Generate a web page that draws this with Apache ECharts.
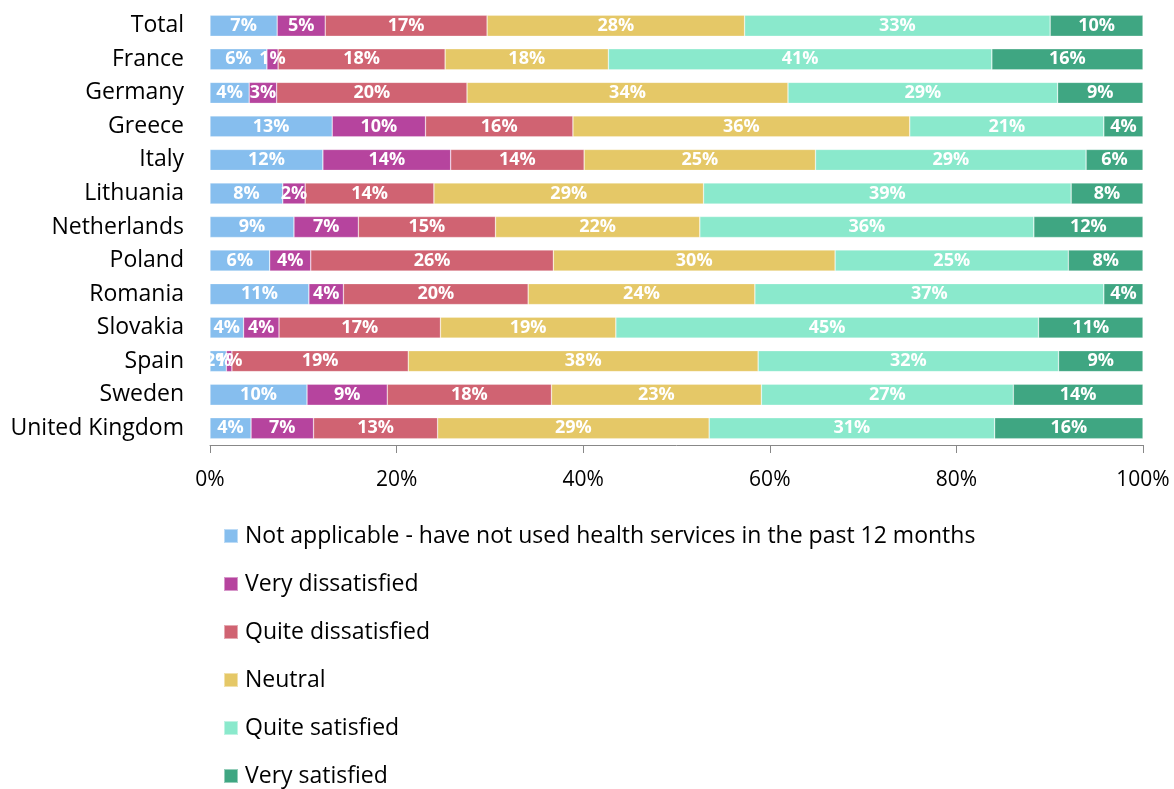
<!DOCTYPE html>
<html>
<head>
<meta charset="utf-8">
<script src="https://cdn.jsdelivr.net/npm/echarts@6/dist/echarts.min.js"></script>
<style>
  html, body { margin: 0; padding: 0; background: #fff; }
  #chart { width: 1174px; height: 789px; }
</style>
</head>
<body>
<div id="chart"></div>
<script>
// countries, top to bottom
var categories = ['Total', 'France', 'Germany', 'Greece', 'Italy', 'Lithuania', 'Netherlands',
  'Poland', 'Romania', 'Slovakia', 'Spain', 'Sweden', 'United Kingdom'];

// shares in %
var notApplicable      = [7.2, 6.1, 4.2, 13.1, 12.1, 7.8, 9.0, 6.4, 10.6, 3.6, 1.75, 10.4, 4.4];
var veryDissatisfied   = [5.15, 1.2, 2.95, 10.0, 13.7, 2.4, 6.9, 4.4, 3.7, 3.8, 0.6, 8.6, 6.7];
var quiteDissatisfied  = [17.35, 17.9, 20.4, 15.8, 14.3, 13.8, 14.7, 26.0, 19.8, 17.3, 18.9, 17.6, 13.3];
var neutral            = [27.6, 17.5, 34.4, 36.1, 24.8, 28.9, 21.9, 30.2, 24.3, 18.8, 37.5, 22.5, 29.1];
var quiteSatisfied     = [32.75, 41.1, 28.9, 20.8, 29.0, 39.4, 35.8, 25.0, 37.4, 45.3, 32.2, 27.0, 30.6];
var verySatisfied      = [9.95, 16.2, 9.15, 4.2, 6.1, 7.7, 11.7, 8.0, 4.2, 11.2, 9.05, 13.9, 15.9];

var seriesNames = ['Not applicable - have not used health services in the past 12 months',
  'Very dissatisfied', 'Quite dissatisfied', 'Neutral', 'Quite satisfied', 'Very satisfied'];
var seriesData = [notApplicable, veryDissatisfied, quiteDissatisfied, neutral, quiteSatisfied, verySatisfied];
var colors = ['#86BEEE', '#B6449E', '#D06372', '#E5C867', '#8AE9CC', '#3FA682'];

var myChart = echarts.init(document.getElementById('chart'));

var series = [];
for (var i = 0; i < seriesNames.length; i++) {
  series.push({
    name: seriesNames[i],
    type: 'bar',
    stack: 'total',
    barWidth: 21,
    data: seriesData[i],
    itemStyle: {
      color: colors[i],
      borderColor: 'rgba(255,255,255,0.45)',
      borderWidth: 0.6
    },
    label: {
      show: true,
      position: 'inside',
      color: '#fff',
      fontFamily: 'Open Sans',
      fontWeight: 'bold',
      fontSize: 18,
      formatter: function (p) {
        return Math.round(p.value) + '%';
      }
    }
  });
}

var option = {
  color: colors,
  animation: false,
  textStyle: { fontFamily: 'Open Sans' },
  grid: {
    left: 210,
    right: 31,
    top: 9,
    height: 436
  },
  legend: {
    orient: 'vertical',
    left: 223,
    top: 524,
    height: 320,
    padding: 0,
    itemWidth: 14,
    itemHeight: 14,
    itemGap: 24,
    icon: 'rect',
    textStyle: {
      fontFamily: 'Open Sans',
      fontSize: 23,
      color: '#000',
      lineHeight: 24,
      padding: [0, 0, 0, 2]
    },
    data: seriesNames
  },
  xAxis: {
    type: 'value',
    min: 0,
    max: 100,
    interval: 20,
    axisLine: { show: true, lineStyle: { color: '#888' } },
    axisTick: { show: true, length: 8, lineStyle: { color: '#888' } },
    splitLine: { show: false },
    axisLabel: {
      margin: 25,
      fontFamily: 'Open Sans',
      fontSize: 21,
      color: '#000',
      formatter: '{value}%'
    }
  },
  yAxis: {
    type: 'category',
    inverse: true,
    data: categories,
    axisLine: { show: false },
    axisTick: { show: false },
    axisLabel: {
      margin: 26,
      fontFamily: 'Open Sans',
      fontSize: 23,
      color: '#000'
    }
  },
  series: series
};

myChart.setOption(option);
</script>
</body>
</html>
